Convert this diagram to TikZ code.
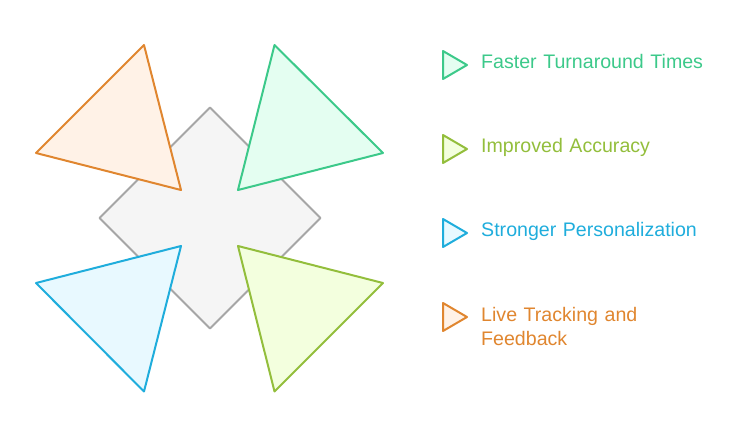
\documentclass[tikz,border=0pt]{standalone}
\usepackage{fontspec}
\setmainfont{Liberation Sans}
\usetikzlibrary{positioning}
\definecolor{fastline}{HTML}{3CC98A}
\definecolor{fastfill}{HTML}{E4FEF1}
\definecolor{accline}{HTML}{93BE3C}
\definecolor{accfill}{HTML}{F3FFDE}
\definecolor{persline}{HTML}{1FADDC}
\definecolor{persfill}{HTML}{E8F9FF}
\definecolor{liveline}{HTML}{E0862F}
\definecolor{livefill}{HTML}{FFF2E7}
\definecolor{hubline}{HTML}{A6A6A6}
\definecolor{hubfill}{HTML}{F5F5F5}
\tikzset{%
  hub/.style={draw=hubline,fill=hubfill,line width=2pt,line join=round},
  fast/.style={draw=fastline,fill=fastfill,line width=2pt,line join=round},
  acc/.style={draw=accline,fill=accfill,line width=2pt,line join=round},
  pers/.style={draw=persline,fill=persfill,line width=2pt,line join=round},
  live/.style={draw=liveline,fill=livefill,line width=2pt,line join=round},
  lbl/.style={inner sep=0pt,text width=225pt,align=left,font=\fontsize{19.6}{24}\selectfont}
}
\begin{document}
\begin{tikzpicture}[x=1pt,y=-1pt]
  \useasboundingbox (0,0) rectangle (754,424);

  \draw[hub] (210,107.5) -- (320.5,218) -- (210,328.5) -- (99.5,218) -- cycle;

  \draw[live] (144,45) -- (36,153) -- (181,190) -- cycle;
  \draw[fast] (274.5,45) -- (383,153) -- (238,190) -- cycle;
  \draw[pers] (181,246) -- (36,283) -- (144,391.5) -- cycle;
  \draw[acc] (238,246) -- (383,283) -- (274.5,391.5) -- cycle;

  \draw[fast] (443,51) -- (467,65) -- (443,79) -- cycle;
  \draw[acc] (443,135) -- (467,149) -- (443,163) -- cycle;
  \draw[pers] (443,219) -- (467,233) -- (443,247) -- cycle;
  \draw[live] (443,303) -- (467,317) -- (443,331) -- cycle;

  \coordinate (fasttip) at (467,61.5);
  \coordinate (acctip) at (467,147.2);
  \coordinate (perstip) at (467,231.2);
  \coordinate (livetip) at (467,326);

  \node[lbl,text=fastline,right=14pt of fasttip] (fastlbl) {Faster Turnaround Times};
  \node[lbl,text=accline,right=14pt of acctip] (acclbl) {Improved Accuracy};
  \node[lbl,text=persline,right=14pt of perstip] (perslbl) {Stronger Personalization};
  \node[lbl,text=liveline,right=14pt of livetip] (livelbl) {Live Tracking and\\Feedback};
\end{tikzpicture}
\end{document}
